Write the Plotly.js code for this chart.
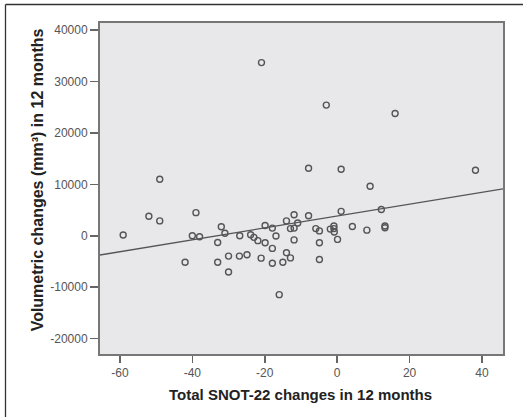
<!DOCTYPE html>
<html>
<head>
<meta charset="utf-8">
<script src="https://cdn.plot.ly/plotly-3.0.1.min.js"></script>
<style>
html,body{margin:0;padding:0;background:#fff;}
#chart{width:523px;height:417px;}
</style>
</head>
<body>
<div id="chart"></div>
<script>
// Total SNOT-22 changes (x) and volumetric changes (y)
const snotChange = [
  -20.9, -3.0, 16.0, -49.0, -7.9, 1.1, 38.2, 9.1,
  -59.1, -52.0, -49.0, -39.0, -40.0, -38.0, -42.0, -33.0, -33.0, -32.0, -31.0,
  -30.0, -30.0, -26.9, -27.0, -24.9, -23.9, -23.0, -21.9, -19.9, -21.0, -19.9,
  -17.9, -16.9, -17.9, -17.9, -15.0, -16.0, -14.0, -14.0, -12.9, -11.9, -12.9,
  -11.9, -11.9, -10.9,
  -7.9, -5.9, -4.9, -4.9, -4.9, -1.9, -0.9, -0.9, -0.8, 0.1, 1.1, 4.2, 8.2,
  12.2, 13.2, 13.2
];
const volumeChange = [
  33700, 25430, 23800, 11000, 13150, 12950, 12750, 9650,
  140, 3800, 2900, 4500, 0, -200, -5150, -5150, -1300, 1750, 500,
  -3950, -7050, 0, -3950, -3700, 200, -300, -950, -1350, -4350, 2000,
  1500, -50, -2450, -5350, -5150, -11450, 2900, -3300, -4300, 4100, 1400,
  1500, -800, 2500,
  3900, 1400, 950, -1350, -4600, 1300, 1900, 1400, 750, -700, 4750, 1800, 1100,
  5100, 1900, 1550
];
// Linear fit line as shown in the picture
const fitIntercept = 3840;
const fitSlope = 115.7;
const xRange = [-65.5, 45.8];
const yRange = [-23000, 41400];
const xTicks = [-60, -40, -20, 0, 20, 40];
const yTicks = [-20000, -10000, 0, 10000, 20000, 30000, 40000];

const fitX = xRange.slice();
const fitY = fitX.map(v => fitIntercept + fitSlope * v);

const data = [
  {
    x: fitX, y: fitY, type: 'scatter', mode: 'lines',
    line: {color: '#555', width: 1.3}, hoverinfo: 'skip', showlegend: false
  },
  {
    x: snotChange, y: volumeChange, type: 'scatter', mode: 'markers',
    marker: {symbol: 'circle-open', size: 6, color: '#555', line: {color: '#555', width: 1.4}},
    showlegend: false
  }
];

const layout = {
  width: 523, height: 417,
  margin: {l: 100, r: 20, t: 23, b: 63, pad: 0},
  paper_bgcolor: '#ffffff',
  plot_bgcolor: '#e8e8ea',
  font: {family: 'Liberation Sans, Arial, sans-serif', color: '#555', size: 12},
  xaxis: {
    range: xRange, tickvals: xTicks, ticktext: xTicks.map(String),
    showgrid: false, zeroline: false,
    showline: true, mirror: true, linecolor: '#777', linewidth: 2,
    ticks: 'outside', ticklen: 7, tickwidth: 1.5, tickcolor: '#666',
    tickfont: {size: 12, color: '#555'}
  },
  yaxis: {
    range: yRange, tickvals: yTicks, ticktext: yTicks.map(String),
    showgrid: false, zeroline: false,
    showline: true, mirror: true, linecolor: '#777', linewidth: 2,
    ticks: 'outside', ticklen: 8, tickwidth: 1.5, tickcolor: '#666',
    tickfont: {size: 12, color: '#555'}
  },
  annotations: [
    {
      text: 'Total SNOT-22 changes in 12 months', xref: 'paper', yref: 'paper',
      x: 0.497, y: -0.121, xanchor: 'center', yanchor: 'middle', showarrow: false,
      font: {size: 15, color: '#222', family: 'Liberation Sans, Arial, sans-serif', weight: 'bold'}
    },
    {
      text: 'Volumetric changes (mm³) in 12 months', xref: 'paper', yref: 'paper',
      x: -0.156, y: 0.525, xanchor: 'center', yanchor: 'middle', textangle: -90, showarrow: false,
      font: {size: 16, color: '#222', family: 'Liberation Sans, Arial, sans-serif', weight: 'bold'}
    }
  ],
  shapes: [
    {
      type: 'line', xref: 'paper', yref: 'paper', x0: -0.2345, x1: 1.2, y0: 1.0559, y1: 1.0559,
      line: {color: '#333', width: 1.3}, layer: 'below'
    },
    {
      type: 'line', xref: 'paper', yref: 'paper', x0: -0.2345, x1: -0.2345, y0: 1.0559, y1: -0.3,
      line: {color: '#333', width: 1.3}, layer: 'below'
    }
  ]
};

Plotly.newPlot('chart', data, layout, {displayModeBar: false, staticPlot: true});
</script>
</body>
</html>
